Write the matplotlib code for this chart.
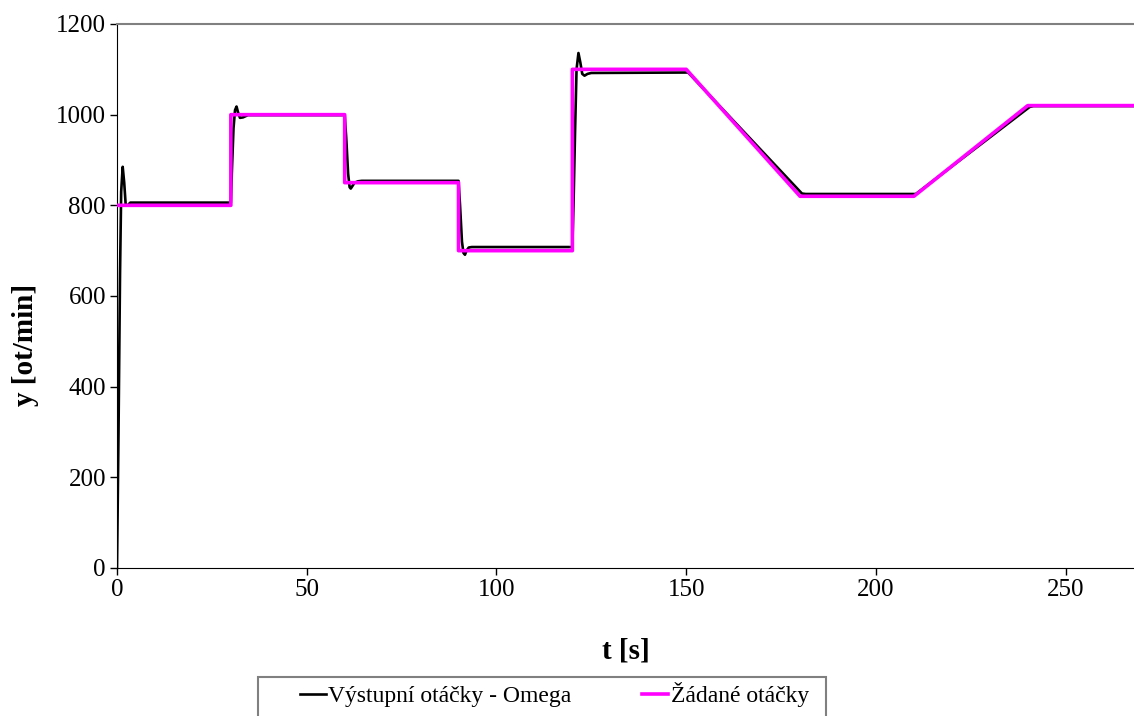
import matplotlib
matplotlib.use("Agg")
import matplotlib.pyplot as plt
from matplotlib.patches import Rectangle

# Setpoint speed profile (Žádané otáčky)
t_ref = [0, 30, 30, 60, 60, 90, 90, 120, 120, 150, 180, 210, 240, 268]
y_ref = [800, 800, 1000, 1000, 850, 850, 700, 700, 1100, 1100, 820, 820, 1020, 1020]

# Measured output speed (Výstupní otáčky - Omega)
t_out = [0, 0.4, 0.8, 1.1, 1.5, 1.9, 2.3, 2.8, 3.5,
         30.0, 30.3, 30.7, 31.1, 31.5, 31.9, 32.4, 33.2, 34.5,
         60.0, 60.4, 60.9, 61.3, 61.6, 62.0, 62.6, 63.5, 64.5,
         90.0, 90.4, 90.9, 91.3, 91.7, 92.1, 92.7, 93.5,
         120.0, 120.3, 120.7, 121.1, 121.6, 122.1, 122.6, 123.2, 124.0, 125.0,
         150.5, 180.5, 181.5,
         210.5, 240.5, 241.5, 268]
y_out = [0, 300, 650, 830, 885, 850, 800, 800, 806,
         806, 880, 970, 1010, 1018, 1005, 993, 994, 999,
         999, 950, 870, 840, 837, 842, 850, 853, 854,
         854, 800, 720, 695, 691, 700, 707, 708,
         708, 800, 960, 1100, 1136, 1115, 1090, 1086, 1090, 1092,
         1093, 826, 825,
         825, 1017, 1019, 1019]

x_ticks = [0, 50, 100, 150, 200, 250]
y_ticks = [0, 200, 400, 600, 800, 1000, 1200]

plt.rcParams['font.family'] = ['Liberation Serif', 'DejaVu Serif']

W, H = 1134, 716
fig = plt.figure(figsize=(W / 100, H / 100), dpi=100)
ax = fig.add_axes([117 / W, 1 - 568 / H, 1 - 117 / W, (568 - 24) / H])

ax.plot(t_out, y_out, color='black', lw=1.9, label='Výstupní otáčky - Omega', zorder=2)
ax.plot(t_ref, y_ref, color='#FF00FF', lw=2.6, label='Žádané otáčky', zorder=3)

ax.set_xlim(0, 268)
ax.set_ylim(0, 1200)
ax.set_xticks(x_ticks)
ax.set_yticks(y_ticks)
ax.tick_params(direction='out', length=5, width=1, labelsize=18, pad=3)

ax.spines['right'].set_visible(False)
ax.spines['top'].set_color('#808080')
ax.spines['top'].set_linewidth(1.5)
ax.spines['left'].set_color('black')
ax.spines['bottom'].set_color('black')

ax.set_xlabel('t [s]', fontsize=21, fontweight='bold')
ax.xaxis.set_label_coords(0.5, -0.128)
ax.set_ylabel('y [ot/min]', fontsize=21, fontweight='bold')
ax.yaxis.set_label_coords(-0.077, 0.41)

# Legend entries without their own frame; the box is drawn separately so it
# can run past the bottom edge of the figure.
leg = fig.legend(loc='upper left', bbox_to_anchor=(300 / W, 1 - 682 / H),
                 ncol=2, fontsize=17, frameon=False,
                 handlelength=1.1, handletextpad=0.1,
                 columnspacing=3.0, borderpad=0, borderaxespad=0)
fig.add_artist(Rectangle((258 / W, -0.05), (826 - 258) / W, 0.05 + 1 - 677 / H,
                         transform=fig.transFigure, fill=False,
                         edgecolor='#808080', lw=1.5))

fig.savefig('out.png', dpi=100)
